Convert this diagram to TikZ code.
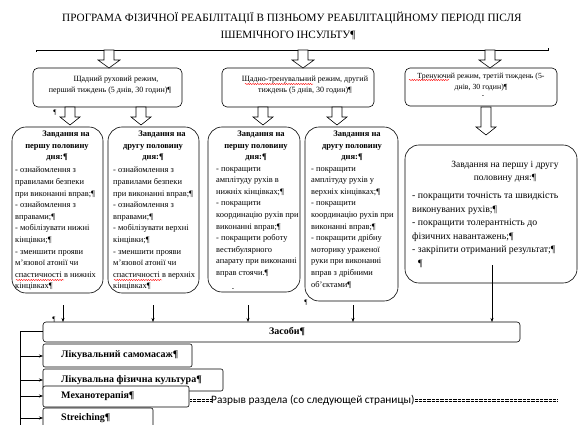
\documentclass[tikz,border=0pt]{standalone}
\usepackage{fontspec}
\setmainfont{Liberation Serif}
\newfontfamily\calib{Carlito}
\usetikzlibrary{decorations.pathmorphing,arrows.meta,calc}
\begin{document}
\begin{tikzpicture}[x=1pt,y=-1pt,
  box/.style={draw,line width=0.6pt,rounded corners=5pt,inner sep=0pt,outer sep=0pt,anchor=north west},
  tbox/.style={draw,line width=0.6pt,rounded corners=14pt,inner sep=0pt,outer sep=0pt,anchor=north west},
  sbox/.style={draw,fill=white,line width=0.6pt,rounded corners=2pt,inner sep=0pt,outer sep=0pt,anchor=north west},
  regtxt/.style={font=\fontsize{8}{11.5}\selectfont,align=center,inner sep=0pt},
  headtxt/.style={font=\bfseries\fontsize{8.5}{11.3}\selectfont,align=center,inner sep=0pt,anchor=north},
  bodytxt/.style={font=\fontsize{8.4}{11.6}\selectfont,align=left,inner sep=0pt,anchor=north west},
  stxt/.style={font=\bfseries\fontsize{10}{11}\selectfont,inner sep=0pt,anchor=west},
  pmark/.style={font=\fontsize{7}{8}\selectfont,inner sep=0pt},
  thin/.style={line width=0.5pt,-{Stealth[length=4pt,width=3pt]}},
  blk/.style={draw,fill=white,line width=0.6pt},
  wavy/.style={red,line width=0.4pt,decorate,decoration={snake,amplitude=0.6pt,segment length=2.4pt}}
]
\useasboundingbox (0,0) rectangle (584,425);
\newcommand{\barr}[4]{% x, ytop, ybot, halfhead
  \draw[blk] (#1-5,#2) -- (#1-5,#3-8) -- (#1-#4,#3-8) -- (#1,#3) -- (#1+#4,#3-8) -- (#1+5,#3-8) -- (#1+5,#2) -- cycle;}

% title
\node[font=\fontsize{11.2}{12}\selectfont,inner sep=0pt] (t1) at (292,18) {ПРОГРАМА ФІЗИЧНОЇ РЕАБІЛІТАЦІЇ В ПІЗНЬОМУ РЕАБІЛІТАЦІЙНОМУ ПЕРІОДІ ПІСЛЯ};
\node[font=\fontsize{11.2}{12}\selectfont,inner sep=0pt] (t2) at (288,35) {ІШЕМІЧНОГО ІНСУЛЬТУ¶};
\coordinate (lL) at (36,50);
\coordinate (lR) at (548,50);
\draw[line width=0.7pt] ($(lL)+(0,2)$) -- (lL) -- (lR) -- ($(lR)+(0,-2)$);

% top row boxes
\node[box,minimum width=149pt,minimum height=39pt] (b1) at (33,68) {};
\node[box,minimum width=152pt,minimum height=39pt] (b2) at (222,68) {};
\node[box,minimum width=152pt,minimum height=38pt] (b3) at (405,68) {};
\node[regtxt] (b1t) at (110,85) {\hspace*{12pt}Щадний руховий режим,\\перший тиждень (5 днів, 30 годин)¶};
\node[regtxt] (b2t) at (305,85) {Щадно-тренувальний режим, другий\\тиждень (5 днів, 30 годин)¶};
\node[regtxt,font=\fontsize{7.8}{10.5}\selectfont] (b3t) at (481,82) {Тренуючий режим, третій тиждень (5-\\днів, 30 годин)¶};
\draw[wavy] (245,84) -- (313,84);
\draw[wavy] (409,80) -- (449,80);
\node[pmark] (m1) at (483,97) {-};

% block arrows top
\barr{109}{50}{68}{11}
\barr{303}{50}{68}{11}
\barr{490}{50}{68}{11}

% task boxes
\node[tbox,minimum width=91pt,minimum height=166pt] (c1) at (12,127) {};
\node[tbox,minimum width=91pt,minimum height=166pt] (c2) at (108,127) {};
\node[tbox,minimum width=92pt,minimum height=165pt] (c3) at (208,127) {};
\node[tbox,minimum width=93pt,minimum height=174pt] (c4) at (305,127) {};
\node[tbox,minimum width=172pt,minimum height=138pt] (c5) at (405,145) {};

% block arrows mid
\barr{70}{107}{125}{10}
\barr{141}{107}{125}{10}
\barr{263}{107}{125}{10}
\barr{337}{107}{125}{10}
\barr{486}{107}{135}{10}

\node[pmark] (p1) at (55,113) {¶};

% texts of task boxes
\node[headtxt] (h1) at (57,131) {\hspace*{18pt}Завдання на\\першу половину\\дня:¶};
\node[bodytxt] (x1) at (15,167) {- ознайомлення з\\правилами безпеки\\при виконанні вправ;¶\\- ознайомлення з\\вправами;¶\\- мобілізувати нижні\\кінцівки;¶\\- зменшити прояви\\м'язової атонії чи\\спастичності в нижніх\\кінцівках¶};
\node[headtxt] (h2) at (153,131) {\hspace*{18pt}Завдання на\\другу половину\\дня:¶};
\node[bodytxt] (x2) at (113,167) {- ознайомлення з\\правилами безпеки\\при виконанні вправ;¶\\- ознайомлення з\\вправами;¶\\- мобілізувати верхні\\кінцівки;¶\\- зменшити прояви\\м'язової атонії чи\\спастичності в верхніх\\кінцівках¶};
\draw[wavy] (16,280) -- (64,280);
\draw[wavy] (114,280) -- (162,280);
\node[headtxt] (h3) at (256,131) {\hspace*{10pt}Завдання на\\першу половину\\дня:¶};
\node[bodytxt] (x3) at (216,167) {- покращити\\амплітуду рухів в\\нижніх кінцівках;¶\\- покращити\\координацію рухів при\\виконанні вправ;¶\\- покращити роботу\\вестибулярного\\апарату при виконанні\\вправ стоячи.¶};
\node[pmark] (m2) at (233,290) {-};
\node[headtxt] (h4) at (352,131) {\hspace*{10pt}Завдання на\\другу половину\\дня:¶};
\node[bodytxt] (x4) at (311,167) {- покращити\\амплітуду рухів у\\верхніх кінцівках;¶\\- покращити\\координацію рухів при\\виконанні вправ;¶\\- покращити дрібну\\моторику ураженої\\руки при виконанні\\вправ з дрібними\\об'єктами¶};
\node[pmark] (p2) at (306,303) {¶};
\node[regtxt,font=\fontsize{9.5}{13}\selectfont] (h5) at (505,172) {Завдання на першу і другу\\половину дня:¶};
\node[bodytxt,font=\fontsize{9.8}{13.5}\selectfont] (x5) at (412,192) {- покращити точність та швидкість\\виконуваних рухів;¶\\- покращити толерантність до\\фізичних навантажень;¶\\- закріпити отриманий результат;¶\\\hspace*{6pt}¶};

% means
\node[sbox,minimum width=477pt,minimum height=20pt,rounded corners=3pt] (z) at (43,322) {};
\node[stxt,anchor=center] (zt) at (287,332) {Засоби¶};
\node[pmark] (p3) at (54,320) {¶};
\foreach \xx/\nm in {63/a1,153/a2,248/a3,353/a4}{
  \coordinate (\nm) at (\xx,305);
  \draw[thin] (\nm) -- (\nm |- z.north);
}
\coordinate (a5) at (492,265);
\draw[thin] (a5) -- (a5 |- z.north);

\node[sbox,minimum width=149pt,minimum height=23pt] (s1) at (43,344) {};
\node[sbox,minimum width=180pt,minimum height=22pt] (s2) at (43,369) {};
\node[sbox,minimum width=146pt,minimum height=21pt] (s3) at (43,386) {};
\node[sbox,minimum width=110pt,minimum height=30pt] (s4) at (43,408) {};
\node[stxt] (s1t) at (61,355) {Лікувальний самомасаж¶};
\node[stxt] (s2t) at (61,380) {Лікувальна фізична культура¶};
\node[stxt] (s3t) at (61,396) {Механотерапія¶};
\node[stxt] (s4t) at (61,418) {Streiching¶};

\coordinate (br) at (20,331);
\coordinate (bb) at (20,425);
\draw[line width=0.6pt] (z.west |- br) -- (br) -- (bb);
\draw[thin] (20,356) -- (s1.west |- 0,356);
\draw[thin] (20,380) -- (s2.west |- 0,380);
\draw[thin] (20,396) -- (s3.west |- 0,396);
\draw[thin] (20,418) -- (s4.west |- 0,418);

% section break
\node[font=\calib\fontsize{11.3}{12}\selectfont,inner sep=0pt,anchor=west,fill=white] (sb) at (211,400) {Разрыв раздела (со следующей страницы)};
\draw[line width=0.5pt,dash pattern=on 0.5pt off 0.8pt] (190,398.8) -- (sb.west |- 0,398.8) (sb.east |- 0,398.8) -- (557,398.8);
\draw[line width=0.5pt,dash pattern=on 0.5pt off 0.8pt] (190,401.2) -- (sb.west |- 0,401.2) (sb.east |- 0,401.2) -- (557,401.2);
\end{tikzpicture}
\end{document}
